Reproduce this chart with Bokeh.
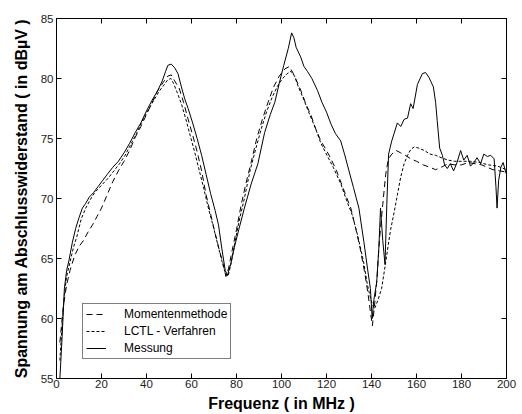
from bokeh.plotting import figure
from bokeh.models import Range1d, LinearAxis, FixedTicker, Legend, LegendItem
from bokeh.embed import file_html
from bokeh.resources import INLINE

# ---- data ----
mess_x = [1.5, 2.5, 3.5, 4.5, 5.5, 7, 8.5, 10, 11.5, 13, 14.5, 16.5, 18.5, 20.5, 22.5, 25, 27.5, 30, 32.5, 35,
          37.5, 40, 42.5, 45, 47, 48.5, 49.5, 51, 52.5, 54, 55.5, 57, 58.5, 60.5, 62.5, 64.5, 66.5, 68.5, 70.5, 72,
          73.5, 75, 76, 77.5, 79, 81, 83.5, 86.5, 89.5, 92.5, 95, 97, 99, 101, 103, 104.5, 105.5, 106.5, 108.5, 110,
          111.5, 113.5, 116, 118, 120, 122, 124, 126.3, 128, 130, 132, 134.4, 136.6, 138.2, 139.5, 140.3, 141, 142.3, 143.3, 144,
          145, 146, 146.8, 147.6, 149, 150, 151.5, 153, 154.5, 156, 157.4, 158.5, 160.4, 162.6, 164, 165.5, 167.5, 168.5, 169.2, 170.3,
          171.5, 172.5, 173.7, 175, 176.5, 178, 179.6, 181, 182.5, 184, 185.5, 186.9, 188.5, 189.9, 191.5, 193, 194.5, 195.3, 195.8, 196.5,
          197.5, 198.5, 199.5, 200]
mess_y = [55.0, 58.5, 62.5, 64.0, 64.8, 66.3, 67.5, 68.4, 69.2, 69.6, 70.1, 70.5, 71.0, 71.5, 72.0, 72.6, 73.1, 73.8, 74.6, 75.5,
          76.3, 77.3, 78.2, 79.0, 79.8, 80.6, 81.1, 81.2, 80.9, 80.4, 79.3, 78.3, 77.5, 76.3, 75.0, 73.6, 72.0, 70.4, 69.0, 67.8,
          65.8, 64.0, 63.6, 64.6, 65.9, 67.4, 69.2, 71.2, 72.9, 75.5, 77.0, 78.0, 79.6, 81.1, 82.5, 83.8, 83.4, 82.6, 81.8, 81.0,
          80.6, 80.0, 79.0, 78.0, 77.2, 76.2, 75.4, 74.8, 73.7, 72.3, 70.9, 69.2, 66.4, 64.2, 62.5, 60.0, 61.5, 63.0, 66.0, 69.2,
          66.5, 64.5, 69.5, 73.7, 74.8, 75.4, 76.3, 76.0, 76.6, 76.7, 77.9, 77.5, 79.5, 80.4, 80.5, 80.1, 79.3, 78.0, 76.5, 74.2,
          73.6, 72.8, 72.5, 72.9, 72.3, 73.0, 74.0, 73.2, 73.6, 72.7, 73.0, 73.4, 72.9, 73.7, 73.5, 73.6, 73.3, 71.0, 69.2, 71.5,
          72.6, 73.0, 72.3, 72.0]

mom_x = [1.5, 3, 4.5, 6, 8, 10, 12, 14, 16, 18, 20, 22.5, 25, 27.5, 30, 32.5, 35, 37.5, 40, 42.5, 45, 47.5, 49.5, 51,
         52.5, 54.5, 56.5, 58.5, 60.5, 62.5, 64.5, 66.5, 68.5, 70.5, 72.5, 74, 75.3, 76.5, 78, 80, 82, 84, 86.5, 89,
         91.5, 94, 96.5, 99, 101.5, 103.5, 105, 106.5, 108.6, 111, 113, 115, 117.5, 120, 122, 124.5, 126.5, 128.5, 130.8,
         133, 135, 137, 138.5, 139.7, 140.4, 141.3, 142.5, 143.5, 145, 146.3, 147.5, 149, 151, 153, 155, 157.5, 160, 163,
         166, 168.5, 171, 174, 177, 180, 183, 186, 189, 191.5, 194, 197, 200]
mom_y = [58.0, 61.0, 62.8, 64.0, 65.2, 66.0, 66.5, 67.2, 67.8, 68.5, 69.2, 70.3, 71.4, 72.3, 73.1, 74.0, 75.1, 76.0, 77.0,
         78.0, 79.0, 79.7, 80.2, 80.3, 79.8, 79.2, 78.0, 76.6, 75.3, 73.9, 72.3, 70.3, 68.7, 67.1, 65.6, 64.6, 63.5, 64.2,
         65.6, 67.4, 69.4, 71.1, 73.0, 75.0, 76.6, 78.0, 79.3, 80.2, 80.8, 81.0, 80.5, 79.9, 79.0, 77.8, 77.0, 75.9, 74.8,
         74.0, 73.3, 72.3, 71.3, 70.3, 69.2, 67.5, 65.8, 63.8, 62.0, 60.3, 59.4, 61.0, 63.5, 66.5, 69.5, 72.0, 73.3, 73.7,
         74.0, 73.8, 73.6, 73.3, 73.1, 72.8, 72.6, 72.4, 72.6, 72.9, 72.8, 72.8, 73.0, 72.9, 72.8, 72.6, 72.4, 72.3, 72.2]

lctl_x = [1.5, 2.5, 3.5, 4.5, 6, 7.5, 9, 11, 13, 15, 17, 19, 21, 23, 25.5, 28, 30.5, 33, 35.5, 38, 40.5, 43, 45.5, 47.5,
          49.5, 50.8, 52, 53.5, 55.5, 57.5, 59.5, 61.5, 63.5, 65.5, 67.5, 69.5, 71.5, 73.5, 75, 76.2, 77.5, 79, 81, 83.5,
          86, 88.5, 91, 93.5, 96, 98.3, 100.5, 102.5, 104.2, 105.8, 107.5, 110, 112.5, 115, 117.5, 120.5, 123, 126.4, 129,
          131.5, 134, 136.5, 138.2, 139.8, 141.3, 142.8, 144.5, 146, 147.5, 148.5, 150, 151.5, 153, 154.5, 156, 157.5, 159,
          161, 163.5, 166, 168.5, 171, 174, 177, 180, 184, 188, 192, 196, 200]
lctl_y = [56.5, 59.5, 62.0, 63.5, 64.7, 65.9, 66.8, 68.3, 69.2, 69.9, 70.5, 70.9, 71.3, 71.7, 72.3, 72.9, 73.6, 74.5, 75.4,
          76.4, 77.3, 78.1, 78.9, 79.4, 79.9, 80.0, 79.6, 78.9, 77.9, 76.6, 75.2, 73.8, 72.3, 70.8, 69.2, 67.8, 66.3, 64.8,
          63.8, 63.5, 64.5, 66.0, 68.0, 70.0, 72.3, 74.1, 75.8, 77.3, 78.5, 79.4, 80.0, 80.4, 80.6, 80.2, 79.3, 78.2, 77.0,
          75.9, 74.6, 73.5, 72.6, 71.2, 69.8, 68.6, 66.8, 64.7, 62.8, 61.5, 60.8, 61.5, 62.5, 64.3, 66.2, 67.4, 68.8, 70.3,
          71.8, 72.9, 73.6, 74.1, 74.3, 74.2, 74.0, 73.7, 73.6, 73.4, 73.2, 73.1, 73.1, 73.1, 73.0, 72.8, 72.7, 72.4]

x_ticks = [0, 20, 40, 60, 80, 100, 120, 140, 160, 180, 200]
y_ticks = [55, 60, 65, 70, 75, 80, 85]
labels = ["Momentenmethode", "LCTL - Verfahren", "Messung"]

FONT = "Liberation Sans"

p = figure(width=522, height=414, x_range=Range1d(0, 200), y_range=Range1d(55, 85),
           output_backend="svg", toolbar_location=None,
           min_border_left=56, min_border_right=16, min_border_top=18, min_border_bottom=36)
p.background_fill_color = "white"
p.border_fill_color = "white"
p.outline_line_color = "black"
p.outline_line_width = 1
p.grid.visible = False

def style_axis(ax, show_labels=True):
    ax.axis_line_color = "black"
    ax.major_tick_line_color = "black"
    ax.major_tick_in = 5
    ax.major_tick_out = 0
    ax.minor_tick_line_color = None
    ax.major_label_text_font = FONT
    if show_labels:
        ax.major_label_text_color = "#222222"
        ax.major_label_text_font_size = "11.5px"
        ax.major_label_standoff = 2
    else:
        ax.major_label_text_color = None
        ax.major_label_text_font_size = "1px"
        ax.major_label_standoff = 0
    ax.axis_label_text_font = FONT
    ax.axis_label_text_font_style = "bold"
    ax.axis_label_text_font_size = "16px"
    ax.axis_label_text_color = "black"

p.xaxis.ticker = FixedTicker(ticks=x_ticks)
p.yaxis.ticker = FixedTicker(ticks=y_ticks)
style_axis(p.xaxis[0])
style_axis(p.yaxis[0])
p.xaxis.axis_label = "Frequenz ( in MHz )"
p.yaxis.axis_label = "Spannung am Abschlusswiderstand ( in dBµV )"
p.xaxis.major_label_standoff = 1
p.xaxis.axis_label_standoff = 4
p.yaxis.axis_label_standoff = 8
p.yaxis.major_label_standoff = 3

top = LinearAxis(ticker=FixedTicker(ticks=x_ticks))
style_axis(top, show_labels=False)
p.add_layout(top, "above")
right = LinearAxis(ticker=FixedTicker(ticks=y_ticks))
style_axis(right, show_labels=False)
p.add_layout(right, "right")

r_mom = p.line(mom_x, mom_y, line_color="black", line_width=1, line_dash="6 4")
r_lctl = p.line(lctl_x, lctl_y, line_color="black", line_width=1, line_dash="3 2")
r_mess = p.line(mess_x, mess_y, line_color="black", line_width=1)

legend = Legend(items=[LegendItem(label=labels[0], renderers=[r_mom]),
                       LegendItem(label=labels[1], renderers=[r_lctl]),
                       LegendItem(label=labels[2], renderers=[r_mess])],
                location=(26, 19))
legend.border_line_color = "black"
legend.border_line_width = 1
legend.background_fill_color = "white"
legend.background_fill_alpha = 1
legend.label_text_font = FONT
legend.label_text_font_size = "12px"
legend.label_text_color = "black"
legend.glyph_width = 20
legend.glyph_height = 14
legend.label_height = 14
legend.label_standoff = 18
legend.spacing = 3
legend.padding = 3
legend.margin = 0
p.add_layout(legend, "center")

open("out.html", "w").write(file_html(p, INLINE))
